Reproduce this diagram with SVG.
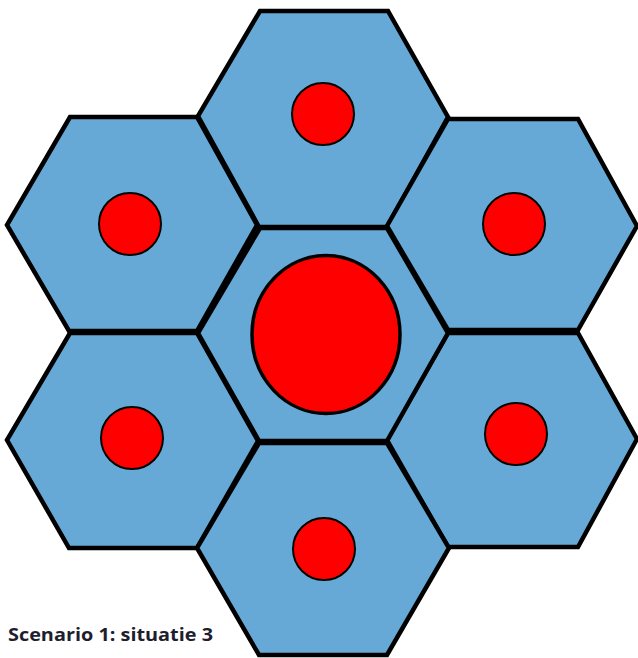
<svg xmlns="http://www.w3.org/2000/svg" width="638" height="658" viewBox="0 0 638 658">
<style>
.hex{fill:#67A9D6;stroke:#000;stroke-width:4.5;stroke-linejoin:miter}
.dot{fill:#FF0000;stroke:#000;stroke-width:2}
.big{fill:#FF0000;stroke:#000;stroke-width:3.5}
.lbl{font-family:"Open Sans","Liberation Sans",sans-serif;font-weight:700;font-size:17.5px;fill:#1e1e2e}
</style>
<rect width="638" height="658" fill="#fff"/>
<g id="hex-top"><polygon class="hex" points="260,11 388,11 448,117 387,227 259,227 198,116"/><circle class="dot" cx="323" cy="114" r="31"/></g>
<g id="hex-top-left"><polygon class="hex" points="70,117 197,117 257,225 197,331 69,331 7,225"/><circle class="dot" cx="130" cy="224" r="31"/></g>
<g id="hex-top-right"><polygon class="hex" points="448,119 578,119 637,226 578,330 448,330 387,226"/><circle class="dot" cx="514" cy="224" r="31"/></g>
<g id="hex-bottom-left"><polygon class="hex" points="70,333 197,333 258,441 197,548 69,548 7,440"/><circle class="dot" cx="132" cy="438" r="31"/></g>
<g id="hex-bottom-right"><polygon class="hex" points="448,333 578,333 637,439 578,547 448,547 387,440"/><circle class="dot" cx="516" cy="434" r="31"/></g>
<g id="hex-bottom"><polygon class="hex" points="259,443 387,443 449,548 387,655 259,655 197,548"/><circle class="dot" cx="324" cy="549" r="31"/></g>
<g id="hex-center"><polygon class="hex" points="260,228 387,228 448,333 387,441 259,441 198,333"/><ellipse class="big" cx="326" cy="334.5" rx="74" ry="79"/></g>
<g id="connectors"/>
<text class="lbl" x="8" y="641" textLength="205" lengthAdjust="spacingAndGlyphs">Scenario 1: situatie 3</text>
</svg>
